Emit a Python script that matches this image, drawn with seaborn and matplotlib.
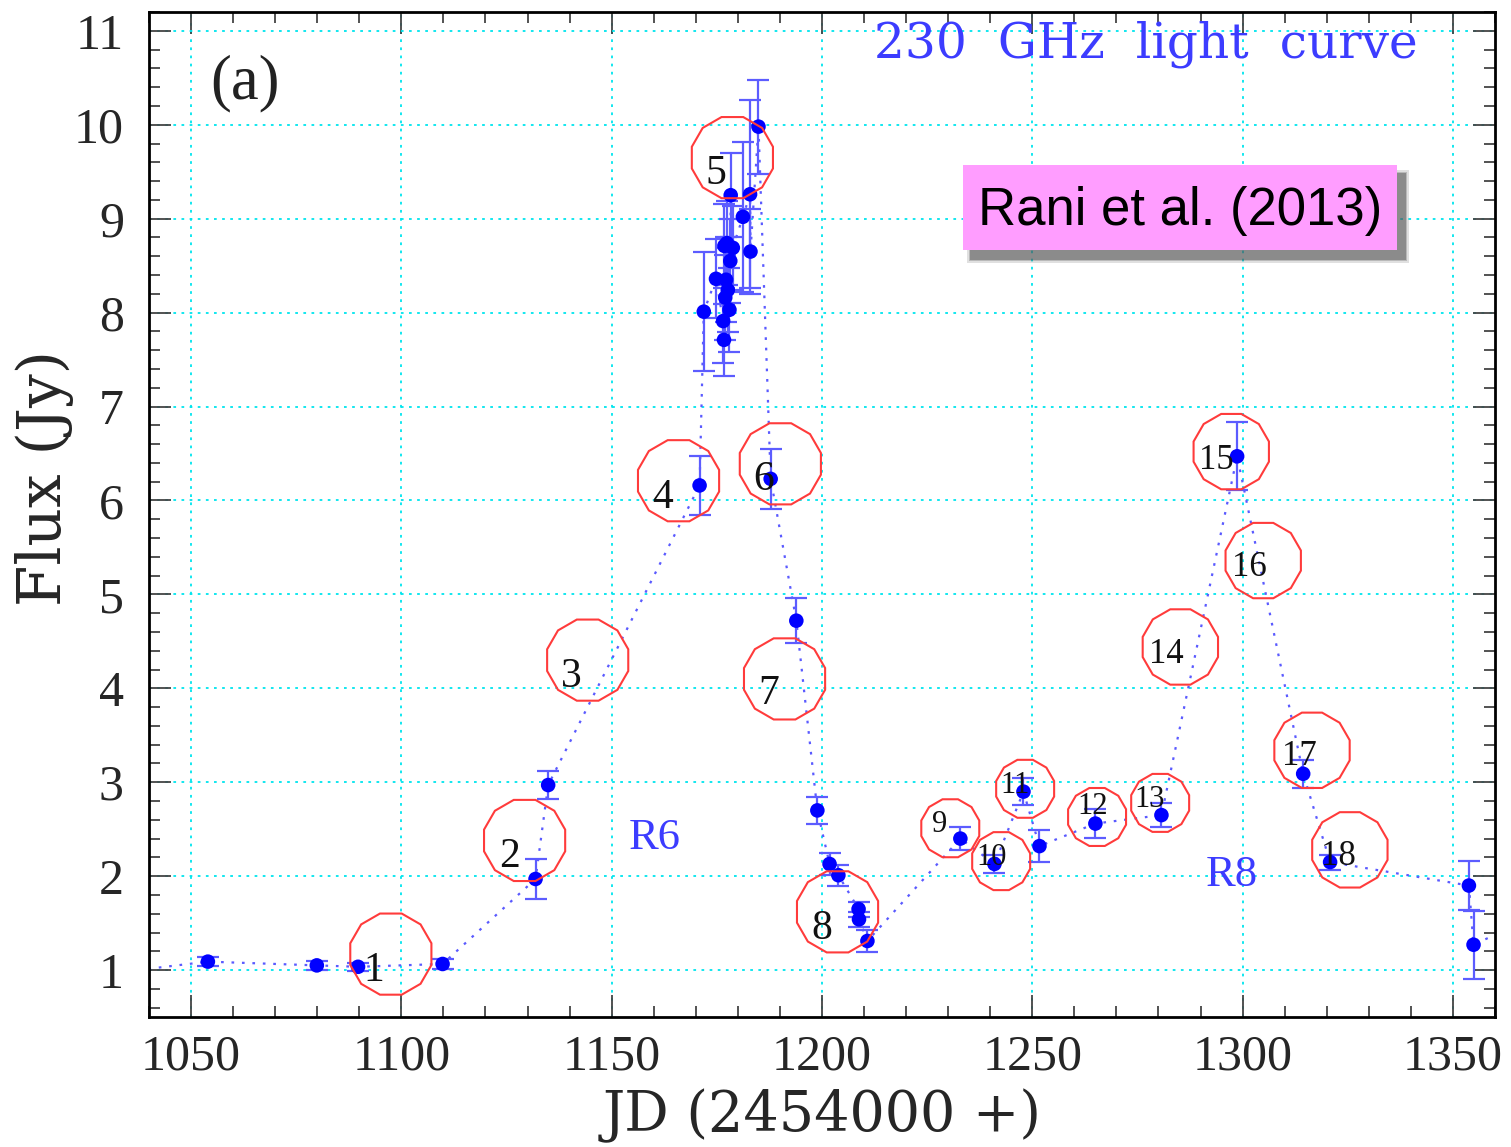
import matplotlib
matplotlib.use("Agg")
import matplotlib.pyplot as plt
import numpy as np
import pandas as pd
import seaborn as sns
from matplotlib.patches import Polygon, Rectangle
from matplotlib.ticker import MultipleLocator

# ==========================
# Datos (JD - 2454000, flujo en Jy, error 1 sigma)
# ==========================
jd = [1030.0, 1054.0, 1079.9, 1089.7, 1109.8, 1131.9, 1134.9, 1170.9,
      1171.9, 1174.8, 1176.5, 1176.7, 1176.8, 1177.0, 1177.2, 1177.4,
      1177.6, 1178.0, 1178.2, 1178.3, 1178.8, 1181.2, 1182.9, 1183.0,
      1184.9, 1187.8, 1193.9, 1198.9, 1201.8, 1203.9, 1208.7, 1208.8,
      1210.8, 1232.9, 1241.0, 1247.9, 1251.7, 1265.0, 1280.7, 1298.7,
      1314.4, 1320.8, 1353.8, 1354.9, 1366.0]
flux = [0.96, 1.09, 1.05, 1.035, 1.065, 1.97, 2.97, 6.16,
        8.01, 8.36, 7.91, 7.71, 8.71, 8.16, 8.35, 8.74,
        8.24, 8.03, 8.55, 9.25, 8.69, 9.02, 9.26, 8.65,
        9.98, 6.23, 4.72, 2.70, 2.13, 2.01, 1.65, 1.54,
        1.31, 2.40, 2.13, 2.90, 2.32, 2.56, 2.65, 6.47,
        3.09, 2.15, 1.90, 1.27, 1.50]
flux_err = [0.05, 0.05, 0.05, 0.04, 0.05, 0.21, 0.15, 0.31,
            0.63, 0.42, 0.45, 0.38, 0.45, 0.45, 0.45, 0.45,
            0.45, 0.45, 0.45, 0.45, 0.45, 0.80, 1.00, 0.45,
            0.50, 0.32, 0.24, 0.14, 0.12, 0.11, 0.08, 0.08,
            0.12, 0.12, 0.10, 0.14, 0.17, 0.15, 0.13, 0.36,
            0.15, 0.08, 0.26, 0.36, 0.30]

# Etiquetas de las componentes (circulos rojos)
comp_labels = [str(i) for i in range(1, 19)]
comp_x = [1097.5, 1129.3, 1144.3, 1165.9, 1178.7, 1190.1, 1191.1, 1203.7, 1230.5,
          1242.6, 1248.3, 1265.4, 1280.4, 1285.2, 1297.3, 1304.9, 1316.5, 1325.5]
comp_y = [1.17, 2.38, 4.30, 6.21, 9.65, 6.39, 4.10, 1.62, 2.51,
          2.16, 2.93, 2.63, 2.78, 4.44, 6.52, 5.36, 3.34, 2.28]
text_x = [1093.5, 1125.8, 1140.5, 1162.1, 1174.7, 1186.1, 1187.3, 1199.9, 1227.9,
          1240.3, 1246.0, 1264.3, 1277.8, 1281.8, 1293.7, 1301.5, 1313.4, 1322.7]
text_y = [0.99, 2.21, 4.12, 6.03, 9.48, 6.22, 3.94, 1.44, 2.55,
          2.20, 2.96, 2.74, 2.82, 4.36, 6.43, 5.29, 3.27, 2.21]
comp_r = [42] * 8 + [30] * 5 + [39] * 5          # radio en pixeles
comp_fs = [30] * 8 + [22] * 5 + [25] * 5

df = pd.DataFrame({"jd": jd, "flux": flux, "err": flux_err})
df_in = df[(df.jd > 1040) & (df.jd < 1360)]

XMIN, XMAX, YMIN, YMAX = 1040, 1360, 0.5, 11.2
SERIF_W = ["DejaVu Serif", "Liberation Serif"]

# ==========================
# Figura
# ==========================
sns.set_style("ticks")
plt.rcParams["font.family"] = ["Liberation Serif", "DejaVu Serif"]

fig = plt.figure(figsize=(15.11, 11.47), dpi=100)
ax = fig.add_axes([0.0986, 0.1133, 0.8908, 0.8762])

ax.grid(True, which="major", color="#00e5ee", ls=(0, (1.5, 3)), lw=1.3)
ax.set_axisbelow(True)

sns.lineplot(x=df.jd, y=df.flux, ax=ax, color="#5a5aff", lw=1.6,
             linestyle=(0, (1.2, 3.5)), sort=False, estimator=None, zorder=2)
ax.errorbar(df_in.jd, df_in.flux, yerr=df_in.err, fmt="none", ecolor="#5c5cff",
            elinewidth=1.6, capsize=8, capthick=1.6, zorder=3)
sns.scatterplot(x=df_in.jd, y=df_in.flux, ax=ax, color="#0000ff", s=110,
                edgecolor="none", zorder=4)

ax.set_xlim(XMIN, XMAX)
ax.set_ylim(YMIN, YMAX)

# escala pixeles -> datos para los dodecagonos
w_px = ax.get_position().width * fig.get_figwidth() * fig.dpi
h_px = ax.get_position().height * fig.get_figheight() * fig.dpi
sx = w_px / (XMAX - XMIN)
sy = h_px / (YMAX - YMIN)
ang = np.deg2rad(15 + 30 * np.arange(12))
for lab, cx, cy, tx, ty, r, fs in zip(comp_labels, comp_x, comp_y, text_x, text_y,
                                      comp_r, comp_fs):
    verts = np.column_stack([cx + r / sx * np.cos(ang), cy + r / sy * np.sin(ang)])
    ax.add_patch(Polygon(verts, closed=True, fill=False, ec="#ff3b3b", lw=1.5, zorder=5))
    ax.text(tx, ty, lab, fontsize=fs, ha="center", va="center", color="#111111", zorder=6)

# ejes y ticks
ax.xaxis.set_major_locator(MultipleLocator(50))
ax.xaxis.set_minor_locator(MultipleLocator(10))
ax.yaxis.set_major_locator(MultipleLocator(1))
ax.yaxis.set_minor_locator(MultipleLocator(0.2))
ax.tick_params(which="both", direction="in", top=True, right=True, color="#444444",
               width=1.3, labelsize=36)
ax.tick_params(which="major", length=16)
ax.tick_params(which="minor", length=8)
ax.tick_params(axis="x", pad=12)
ax.tick_params(axis="y", pad=18)
for sp in ax.spines.values():
    sp.set_linewidth(2)
    sp.set_color("black")

ax.set_xlabel("JD (2454000 +)", fontsize=40, labelpad=6, family=SERIF_W)
ax.set_ylabel("Flux (Jy)", fontsize=43, family=SERIF_W)
ax.yaxis.set_label_coords(-0.056, 0.536)

ax.text(0.741, 0.968, "230  GHz  light  curve", transform=ax.transAxes, fontsize=35,
        color="#3c3cff", ha="center", va="center", family=SERIF_W)
ax.text(0.071, 0.929, "(a)", transform=ax.transAxes, fontsize=45,
        color="#222222", ha="center", va="center")
ax.text(1160.2, 2.41, "R6", fontsize=32, color="#3c3cff", ha="center", va="center")
ax.text(1297.5, 2.01, "R8", fontsize=32, color="#3c3cff", ha="center", va="center")

# recuadro con sombra
bx, by, bw, bh = 963 / 1511, 1 - 250 / 1147, 434 / 1511, 85 / 1147
for k, a in enumerate([0.18, 0.28, 0.45]):
    d = (3 - k) * 1.2
    fig.add_artist(Rectangle((bx + (8 - d) / 1511, by - (9 + d) / 1147),
                             bw + 2 * d / 1511, bh + 2 * d / 1147,
                             transform=fig.transFigure, fc="#555555", ec="none",
                             alpha=a, zorder=8))
fig.add_artist(Rectangle((bx, by), bw, bh, transform=fig.transFigure,
                         fc="#ff9dff", ec="none", zorder=9))
fig.text(bx + bw / 2, by + bh / 2 - 0.003, "Rani et al. (2013)", fontsize=38,
         family=["Liberation Sans", "DejaVu Sans"], ha="center", va="center",
         color="black", zorder=10)

plt.savefig("out.png", dpi=100)
